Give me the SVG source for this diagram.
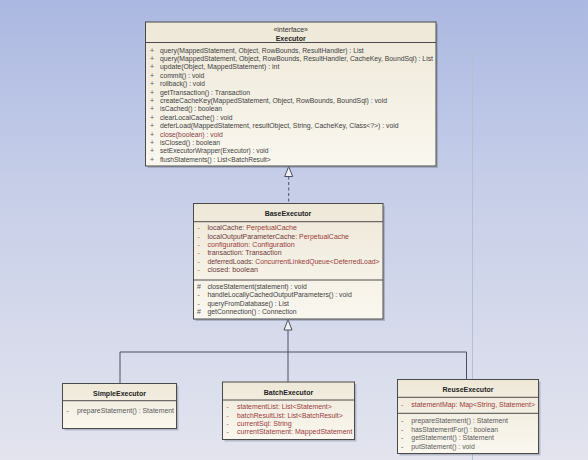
<svg xmlns="http://www.w3.org/2000/svg" width="588" height="460" viewBox="0 0 588 460">
<defs>
<linearGradient id="bg" x1="0" y1="0" x2="0" y2="1">
<stop offset="0" stop-color="#abb8e1"/>
<stop offset="0.4" stop-color="#c6cee8"/>
<stop offset="1" stop-color="#e3e4ee"/>
</linearGradient>
<linearGradient id="box" x1="0" y1="0" x2="0" y2="1">
<stop offset="0" stop-color="#eee8d8"/>
<stop offset="1" stop-color="#faf7ef"/>
</linearGradient>
<style>
.shadow{fill:#7d8496;opacity:0.45}
.cls{fill:url(#box);stroke:#4a4a4a;stroke-width:1}
.div{stroke:#4a4a4a;stroke-width:1}
text{font-family:"Liberation Sans",Arial,sans-serif;font-size:7px}
.name{font-weight:bold;font-size:7px;fill:#222;text-anchor:middle}
.st{font-size:7px;fill:#333;text-anchor:middle}
.m{fill:#3e3e3e}
.mg{fill:#5a5a5a}
.a{fill:#9a3a3a}
.an{fill:#6e3a3a}
.b{fill:#555}
.ba{fill:#b05050}
.conn{stroke:#4a5060;stroke-width:1;fill:none}
.tri{fill:#f2f2f2;stroke:#4a5060;stroke-width:1}
</style>
</defs>
<rect x="0" y="0" width="588" height="460" fill="url(#bg)"/>
<line x1="472.5" y1="50" x2="472.5" y2="460" stroke="#b6bed2" stroke-width="1"/>

<g id="connectors">
<line class="conn" x1="288.7" y1="176.5" x2="288.7" y2="203" stroke-dasharray="3,2.5"/>
<polygon class="tri" points="288.7,166.5 284.7,176.5 292.7,176.5"/>
<polyline class="conn" points="288,330 288,352"/>
<polyline class="conn" points="120,383 120,352 466.5,352 466.5,379"/>
<line class="conn" x1="288" y1="352" x2="288" y2="382"/>
<polygon class="tri" points="288,319.5 284,330 292,330"/>
</g>

<g id="Executor">
<rect class="shadow" x="147.5" y="24" width="290.5" height="144"/>
<rect class="cls" x="145.5" y="22" width="290.5" height="144"/>
<line class="div" x1="145.5" y1="42.5" x2="436" y2="42.5"/>
<text class="st" x="290.7" y="32">«interface»</text>
<text class="name" x="290.7" y="40.5" font-weight="normal">Executor</text>
<g class="b">
<text x="150" y="52.5">+</text><text x="150" y="60.9">+</text><text x="150" y="69.3">+</text><text x="150" y="77.7">+</text>
<text x="150" y="86.1">+</text><text x="150" y="94.6">+</text><text x="150" y="103">+</text><text x="150" y="111.4">+</text>
<text x="150" y="119.8">+</text><text x="150" y="128.2">+</text><text x="150" y="136.6">+</text><text x="150" y="145">+</text>
<text x="150" y="153.4">+</text><text x="150" y="161.8">+</text>
</g>
<g class="m">
<text x="160" y="52.5" textLength="203.7" lengthAdjust="spacingAndGlyphs">query(MappedStatement, Object, RowBounds, ResultHandler) : List</text>
<text x="160" y="60.9" textLength="273" lengthAdjust="spacingAndGlyphs">query(MappedStatement, Object, RowBounds, ResultHandler, CacheKey, BoundSql) : List</text>
<text x="160" y="69.3" textLength="119.3" lengthAdjust="spacingAndGlyphs">update(Object, MappedStatement) : int</text>
<text x="160" y="77.7" textLength="44.4" lengthAdjust="spacingAndGlyphs">commit() : void</text>
<text x="160" y="86.1" textLength="45" lengthAdjust="spacingAndGlyphs">rollback() : void</text>
<text x="160" y="94.6" textLength="90" lengthAdjust="spacingAndGlyphs">getTransaction() : Transaction</text>
<text x="160" y="103" textLength="227" lengthAdjust="spacingAndGlyphs">createCacheKey(MappedStatement, Object, RowBounds, BoundSql) : void</text>
<text x="160" y="111.4" textLength="62" lengthAdjust="spacingAndGlyphs">isCached() : boolean</text>
<text x="160" y="119.8" textLength="72.5" lengthAdjust="spacingAndGlyphs">clearLocalCache() : void</text>
<text x="160" y="128.2" textLength="238.6" lengthAdjust="spacingAndGlyphs">deferLoad(MappedStatement, resultObject, String, CacheKey, Class&lt;?&gt;) : void</text>
<text x="160" y="136.6" textLength="62.7" lengthAdjust="spacingAndGlyphs" fill="#8a4040">close(boolean) : void</text>
<text x="160" y="145" textLength="60" lengthAdjust="spacingAndGlyphs">isClosed() : boolean</text>
<text x="160" y="153.4" textLength="108.5" lengthAdjust="spacingAndGlyphs">setExecutorWrapper(Executor) : void</text>
<text x="160" y="161.8" textLength="110.7" lengthAdjust="spacingAndGlyphs">flushStatements() : List&lt;BatchResult&gt;</text>
</g>
</g>

<g id="BaseExecutor">
<rect class="shadow" x="195.5" y="205.5" width="189.5" height="115.5"/>
<rect class="cls" x="193.5" y="203.5" width="189.5" height="115.5"/>
<line class="div" x1="193.5" y1="221.7" x2="383" y2="221.7"/>
<line class="div" x1="193.5" y1="280" x2="383" y2="280"/>
<text class="name" x="288" y="215.6">BaseExecutor</text>
<g class="ba">
<text x="197.5" y="230.2">-</text><text x="197.5" y="238.5">-</text><text x="197.5" y="246.9">-</text>
<text x="197.5" y="255.2">-</text><text x="197.5" y="263.5">-</text><text x="197.5" y="271.8">-</text>
</g>
<text x="207.4" y="230.2" textLength="89.6" lengthAdjust="spacingAndGlyphs"><tspan class="an">localCache: </tspan><tspan class="a">PerpetualCache</tspan></text>
<text x="207.4" y="238.5" textLength="141.6" lengthAdjust="spacingAndGlyphs"><tspan class="an">localOutputParameterCache: </tspan><tspan class="a">PerpetualCache</tspan></text>
<text x="207.4" y="246.9" textLength="87.3" lengthAdjust="spacingAndGlyphs" class="a">configuration: Configuration</text>
<text x="207.4" y="255.2" textLength="74.2" lengthAdjust="spacingAndGlyphs" class="an">transaction: Transaction</text>
<text x="207.4" y="263.5" textLength="172.1" lengthAdjust="spacingAndGlyphs"><tspan class="an">deferredLoads: </tspan><tspan class="a">ConcurrentLinkedQueue&lt;DeferredLoad&gt;</tspan></text>
<text x="207.4" y="271.8" textLength="50.6" lengthAdjust="spacingAndGlyphs" class="an">closed: boolean</text>
<g class="b">
<text x="197" y="288.8">#</text><text x="197.5" y="297.2">-</text><text x="197.5" y="305.6">-</text><text x="197" y="314">#</text>
</g>
<g class="m">
<text x="207.4" y="288.8" textLength="99.3" lengthAdjust="spacingAndGlyphs">closeStatement(statement) : void</text>
<text x="207.4" y="297.2" textLength="144.3" lengthAdjust="spacingAndGlyphs">handleLocallyCachedOutputParameters() : void</text>
<text x="207.4" y="305.6" textLength="81.6" lengthAdjust="spacingAndGlyphs">queryFromDatabase() : List</text>
<text x="207.4" y="314" textLength="89.2" lengthAdjust="spacingAndGlyphs">getConnection() : Connection</text>
</g>
</g>

<g id="SimpleExecutor">
<rect class="shadow" x="64.5" y="385.5" width="114" height="45"/>
<rect class="cls" x="62.5" y="383.5" width="114" height="45"/>
<line class="div" x1="62.5" y1="400.7" x2="176.5" y2="400.7"/>
<text class="name" x="119.5" y="396">SimpleExecutor</text>
<text x="66.5" y="413.2" class="b">-</text>
<text x="76.9" y="413.2" class="mg" textLength="97.1" lengthAdjust="spacingAndGlyphs">prepareStatement() : Statement</text>
</g>

<g id="BatchExecutor">
<rect class="shadow" x="224.5" y="384" width="132" height="57.5"/>
<rect class="cls" x="222.5" y="382" width="132" height="57.5"/>
<line class="div" x1="222.5" y1="400" x2="354.5" y2="400"/>
<text class="name" x="288.5" y="394.6">BatchExecutor</text>
<g class="ba">
<text x="226.5" y="409.2">-</text><text x="226.5" y="417.5">-</text><text x="226.5" y="425.9">-</text><text x="226.5" y="434.2">-</text>
</g>
<g class="a">
<text x="237" y="409.2" textLength="94.8" lengthAdjust="spacingAndGlyphs">statementList: List&lt;Statement&gt;</text>
<text x="237" y="417.5" textLength="105.7" lengthAdjust="spacingAndGlyphs">batchResultList: List&lt;BatchResult&gt;</text>
<text x="237" y="425.9" textLength="54.7" lengthAdjust="spacingAndGlyphs">currentSql: String</text>
<text x="237" y="434.2" textLength="115.5" lengthAdjust="spacingAndGlyphs">currentStatement: MappedStatement</text>
</g>
</g>

<g id="ReuseExecutor">
<rect class="shadow" x="399.5" y="381.5" width="141" height="74"/>
<rect class="cls" x="397.5" y="379.5" width="141" height="74"/>
<line class="div" x1="397.5" y1="397.3" x2="538.5" y2="397.3"/>
<line class="div" x1="397.5" y1="413.3" x2="538.5" y2="413.3"/>
<text class="name" x="468" y="391.6">ReuseExecutor</text>
<text x="401" y="406.8" class="ba">-</text>
<text x="411.3" y="406.8" class="a" textLength="123.7" lengthAdjust="spacingAndGlyphs">statementMap: Map&lt;String, Statement&gt;</text>
<g class="b">
<text x="401" y="423.2">-</text><text x="401" y="431.8">-</text><text x="401" y="440.2">-</text><text x="401" y="448.5">-</text>
</g>
<g class="mg">
<text x="411.3" y="423.2" textLength="96.7" lengthAdjust="spacingAndGlyphs">prepareStatement() : Statement</text>
<text x="411.3" y="431.8" textLength="86.7" lengthAdjust="spacingAndGlyphs">hasStatementFor() : boolean</text>
<text x="411.3" y="440.2" textLength="82.7" lengthAdjust="spacingAndGlyphs">getStatement() : Statement</text>
<text x="411.3" y="448.5" textLength="63.4" lengthAdjust="spacingAndGlyphs">putStatement() : void</text>
</g>
</g>
</svg>
